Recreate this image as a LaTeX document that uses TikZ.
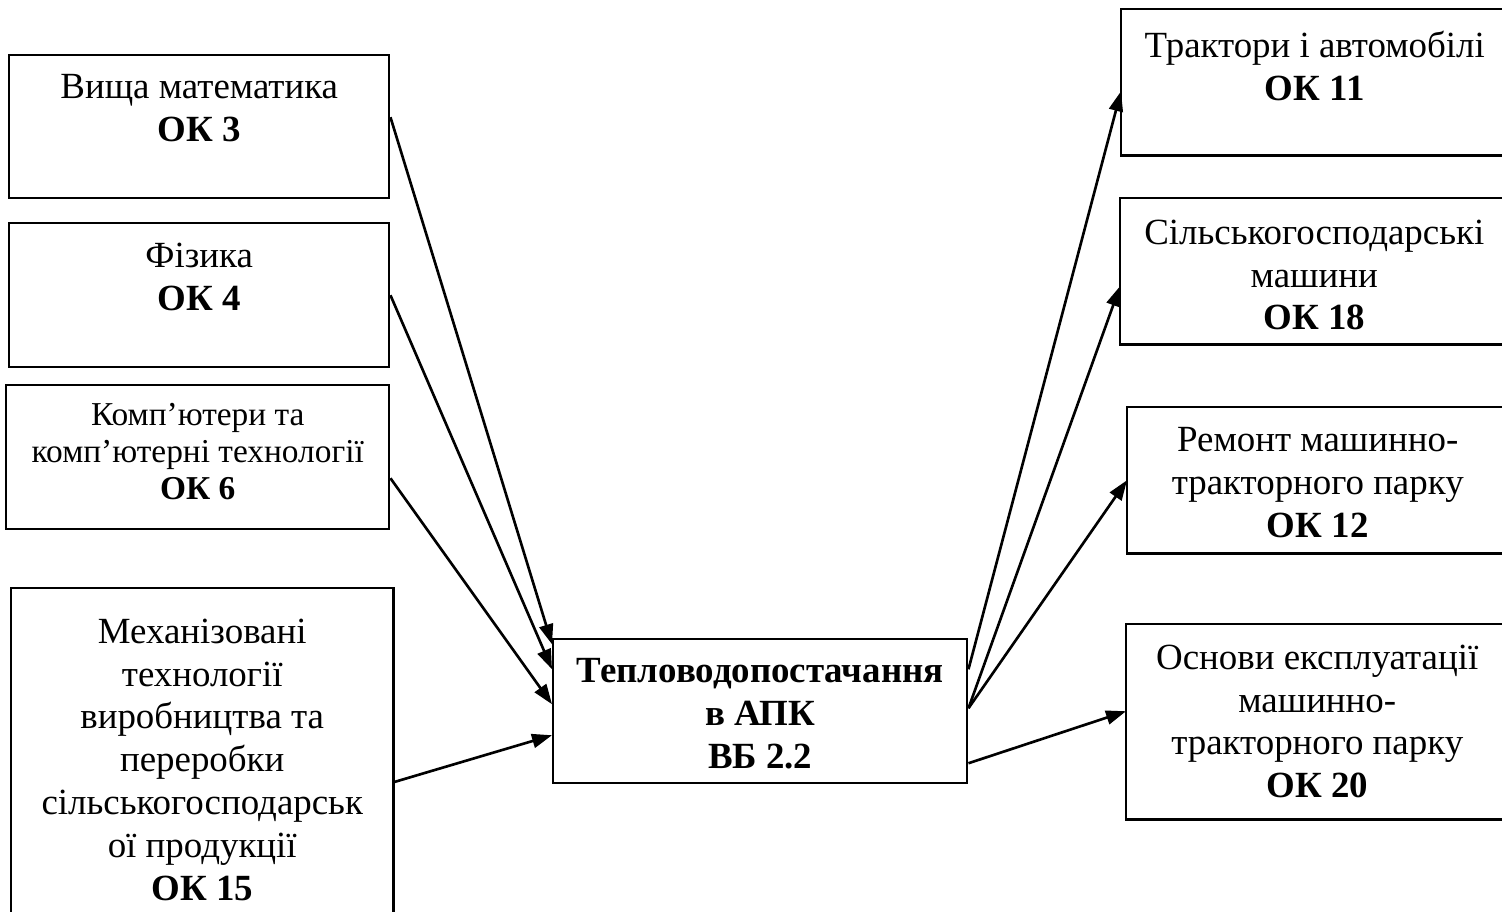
\documentclass[tikz,border=0pt]{standalone}
\usepackage{fontspec}
\setmainfont{Liberation Serif}
\usetikzlibrary{positioning,arrows.meta}
\tikzset{
    subject/.style={draw, rectangle, line width=0.7pt, inner sep=0pt, anchor=north west},
    subjopen/.style={subject, draw=none},
    subjtext/.style={align=center, inner sep=0pt, font=\fontsize{10.5pt}{12.2pt}\selectfont},
    link/.style={line width=0.75pt, -{Triangle[length=0.2cm, width=0.14cm]}}
}

\begin{document}
\begin{tikzpicture}
    \useasboundingbox (0cm, 0cm) rectangle (15.02cm, 9.11cm);

    \node (vm) at (0.08cm, 8.57cm) [subject, minimum width=3.8cm, minimum height=1.43cm] {};
    \node (fiz) at (0.08cm, 6.89cm) [subject, minimum width=3.8cm, minimum height=1.44cm] {};
    \node (komp) at (0.05cm, 5.27cm) [subject, minimum width=3.83cm, minimum height=1.44cm] {};
    \node (mech) at (0.11cm, 3.23cm) [subjopen, minimum width=3.8cm, minimum height=3.23cm] {};

    \node (vmtext) [subjtext, below=0.2cm of vm.north] {Вища математика\\\textbf{ОК 3}};
    \node (fiztext) [subjtext, below=0.2cm of fiz.north] {Фізика\\\textbf{ОК 4}};
    \node (komptext) [subjtext, below=0.19cm of komp.north, font=\fontsize{9.5pt}{10.5pt}\selectfont]
        {Комп’ютери та\\комп’ютерні технології\\\textbf{ОК 6}};
    \node (mechtext) [subjtext, below=0.3cm of mech.north]
        {Механізовані\\технології\\виробництва та\\переробки\\сільськогосподарськ\\ої продукції\\\textbf{ОК 15}};

    \node (tvp) at (5.52cm, 2.73cm) [subject, minimum width=4.14cm, minimum height=1.44cm] {};
    \node (tvptext) [subjtext, below=0.2cm of tvp.north] {\textbf{Тепловодопостачання}\\\textbf{в АПК}\\\textbf{ВБ 2.2}};

    \node (tra) at (11.21cm, 9.02cm) [subjopen, minimum width=3.81cm, minimum height=1.44cm] {};
    \node (sgm) at (11.20cm, 7.13cm) [subjopen, minimum width=3.82cm, minimum height=1.44cm] {};
    \node (rem) at (11.27cm, 5.04cm) [subjopen, minimum width=3.75cm, minimum height=1.44cm] {};
    \node (osn) at (11.26cm, 2.87cm) [subjopen, minimum width=3.76cm, minimum height=1.93cm] {};

    \node (tratext) [subjtext, below=0.21cm of tra.north, xshift=0.02cm] {Трактори і автомобілі\\\textbf{ОК 11}};
    \node (sgmtext) [subjtext, below=0.21cm of sgm.north, xshift=0.02cm] {Сільськогосподарські\\машини\\\textbf{ОК 18}};
    \node (remtext) [subjtext, below=0.2cm of rem.north, xshift=0.02cm] {Ремонт машинно-\\тракторного парку\\\textbf{ОК 12}};
    \node (osntext) [subjtext, below=0.2cm of osn.north, xshift=0.02cm]
        {Основи експлуатації\\машинно-\\тракторного парку\\\textbf{ОК 20}};

    \draw [line width=0.7pt] (mech.south west) -- (mech.north west) -- (mech.north east) -- (mech.south east);
    \draw [line width=0.7pt] (tra.north east) -- (tra.north west) -- (tra.south west) -- (tra.south east);
    \draw [line width=0.7pt] (sgm.north east) -- (sgm.north west) -- (sgm.south west) -- (sgm.south east);
    \draw [line width=0.7pt] (rem.north east) -- (rem.north west) -- (rem.south west) -- (rem.south east);
    \draw [line width=0.7pt] (osn.north east) -- (osn.north west) -- (osn.south west) -- (osn.south east);

    \draw [link] ([yshift=0.095cm]vm.east) -- ([yshift=0.67cm]tvp.west);
    \draw [link] (fiz.east) -- ([yshift=0.42cm]tvp.west);
    \draw [link] ([yshift=-0.21cm]komp.east) -- ([yshift=0.07cm]tvp.west);
    \draw [link] ([yshift=-0.315cm]mech.east) -- ([yshift=-0.24cm]tvp.west);

    \draw [link] ([yshift=0.42cm]tvp.east) -- ([yshift=-0.09cm]tra.west);
    \draw [link] ([yshift=0.03cm]tvp.east) -- ([yshift=-0.15cm]sgm.west);
    \draw [link] ([yshift=0.03cm]tvp.east) -- (rem.west);
    \draw [link] ([yshift=-0.52cm]tvp.east) -- ([yshift=0.105cm]osn.west);
\end{tikzpicture}
\end{document}
